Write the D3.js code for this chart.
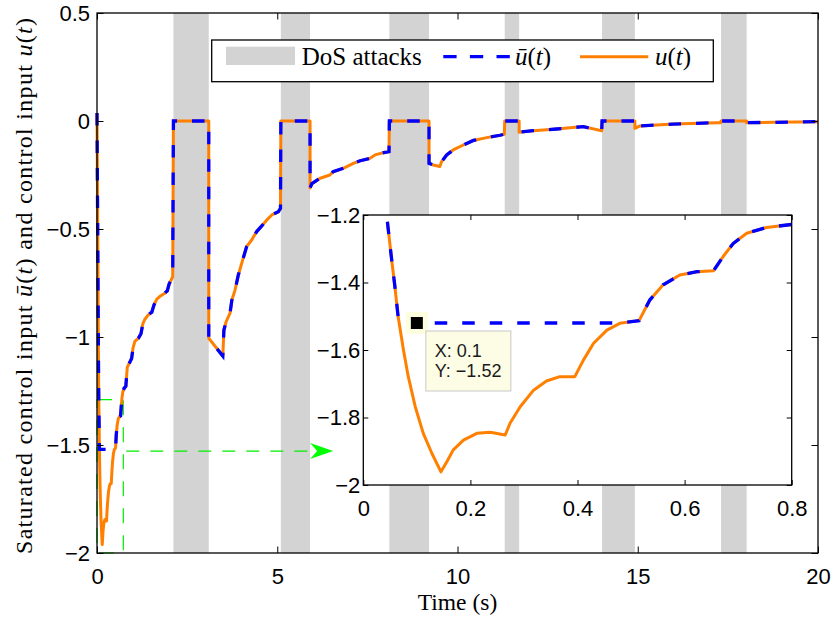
<!DOCTYPE html>
<html>
<head>
<meta charset="utf-8">
<script src="https://cdn.jsdelivr.net/npm/d3@7"></script>
<style>
  body { margin: 0; background: #fff; }
  svg { display: block; }
  .tick text { font-family: "Liberation Sans", Arial, sans-serif; font-size: 22px; fill: #000; }
  .tick line { stroke: #000; stroke-width: 1; }
  .serif { font-family: "Liberation Serif", "Times New Roman", serif; fill: #000; }
</style>
</head>
<body>
<svg width="834" height="624"></svg>
<script>
// DoS attack intervals [start, end] (s)
const attacks = [[2.12, 3.10], [5.10, 5.91], [8.11, 9.21], [11.31, 11.71], [14.01, 14.92], [17.31, 18.02]];

// control input u(t) as [t, value]
const u = [
  [0, 0.037], [0.045, -1.220], [0.053, -1.333], [0.059, -1.412], [0.065, -1.501], [0.075, -1.600],
  [0.084, -1.679], [0.097, -1.768], [0.112, -1.847], [0.128, -1.906], [0.145, -1.961], [0.156, -1.931],
  [0.168, -1.896], [0.187, -1.867], [0.212, -1.847], [0.237, -1.844], [0.265, -1.852], [0.274, -1.817],
  [0.293, -1.768], [0.318, -1.719], [0.342, -1.692], [0.367, -1.679], [0.395, -1.679], [0.411, -1.630],
  [0.430, -1.580], [0.455, -1.541], [0.479, -1.521], [0.515, -1.513], [0.535, -1.452], [0.560, -1.407],
  [0.591, -1.378], [0.623, -1.368], [0.654, -1.365], [0.672, -1.323], [0.691, -1.284], [0.716, -1.254],
  [0.753, -1.237], [0.800, -1.228],
  [0.84, -1.14], [0.90, -1.12], [0.96, -1.10], [1.00, -1.05], [1.05, -1.02], [1.15, -1.005],
  [1.22, -0.985], [1.27, -0.94], [1.32, -0.92], [1.42, -0.898], [1.52, -0.885], [1.58, -0.852],
  [1.66, -0.825], [1.76, -0.81], [1.86, -0.80], [1.95, -0.786], [2.00, -0.755], [2.10, -0.721],
  [2.12, 0], [3.10, 0], [3.10, -1.006], [3.49, -1.088],
  [3.52, -0.968], [3.58, -0.93], [3.69, -0.89], [3.74, -0.83], [3.83, -0.782], [3.92, -0.713],
  [4.04, -0.644], [4.15, -0.582], [4.29, -0.551], [4.43, -0.512], [4.57, -0.486], [4.71, -0.458],
  [4.85, -0.435], [5.03, -0.42], [5.09, -0.404],
  [5.10, 0], [5.91, 0], [5.91, -0.31], [5.96, -0.29], [6.19, -0.265], [6.46, -0.25], [6.55, -0.235],
  [6.83, -0.219], [7.11, -0.196], [7.30, -0.184], [7.57, -0.173], [7.71, -0.157], [7.99, -0.145],
  [8.10, -0.142],
  [8.11, 0], [9.21, 0], [9.21, -0.196], [9.33, -0.204], [9.51, -0.211], [9.56, -0.188], [9.70, -0.157],
  [9.88, -0.134], [10.16, -0.111], [10.44, -0.09], [10.81, -0.077], [11.18, -0.066], [11.30, -0.061],
  [11.31, 0], [11.71, 0], [11.71, -0.052], [12.1, -0.045], [12.75, -0.037], [13.49, -0.026], [14.00, -0.045],
  [14.01, 0], [14.92, 0], [14.92, -0.034], [15.06, -0.023], [15.99, -0.014], [17.19, -0.008], [17.30, -0.008],
  [17.31, 0], [18.02, 0], [18.02, -0.008], [18.8, -0.006], [20, -0.003]
];

// saturated input ū(t): held at the limit early on, equal to u afterwards
const ubarHead = [
  [0, 0.037], [0.045, -1.220], [0.053, -1.333], [0.059, -1.412], [0.065, -1.501], [0.067, -1.52], [0.479, -1.52]
];
const ubar = ubarHead.concat(u.filter(d => d[0] > 0.48));

const xTicks = [0, 5, 10, 15, 20];
const yTicks = [-2, -1.5, -1, -0.5, 0, 0.5];
const insetXTicks = [0, 0.2, 0.4, 0.6, 0.8];
const insetYTicks = [-2, -1.8, -1.6, -1.4, -1.2];

// data tip shown in the zoomed view
const tip = [0.1, -1.52];

// zoom region and arrow, in main data coords
const zoomBox = [[0, -2], [0.73, -1.29]];
const arrow = [[0.73, -1.528], [6.55, -1.528]];

const ORANGE = "#ff8000", BLUE = "#0000ff", GREEN = "#00ee00", GREY = "#d3d3d3";
const fmt = d3.format("~g");

const svg = d3.select("svg");
const x = d3.scaleLinear().domain([0, 20]).range([97, 818]);
const y = d3.scaleLinear().domain([-2, 0.5]).range([553, 13]);
const xi = d3.scaleLinear().domain([0, 0.8]).range([363.3, 791.7]);
const yi = d3.scaleLinear().domain([-2, -1.2]).range([485, 215]);

// box with inward ticks on all four sides
function frame(g, xs, ys, xt, yt, len, padX, padY) {
  const [x0, x1] = xs.range(), [y0, y1] = ys.range();
  g.append("g").attr("transform", `translate(0,${y0})`)
    .call(d3.axisBottom(xs).tickValues(xt).tickFormat(fmt).tickSizeInner(-len).tickSizeOuter(0).tickPadding(padY));
  g.append("g").attr("transform", `translate(0,${y1})`)
    .call(d3.axisTop(xs).tickValues(xt).tickFormat("").tickSizeInner(-len).tickSizeOuter(0));
  g.append("g").attr("transform", `translate(${x0},0)`)
    .call(d3.axisLeft(ys).tickValues(yt).tickFormat(fmt).tickSizeInner(-len).tickSizeOuter(0).tickPadding(padX));
  g.append("g").attr("transform", `translate(${x1},0)`)
    .call(d3.axisRight(ys).tickValues(yt).tickFormat("").tickSizeInner(-len).tickSizeOuter(0));
  g.selectAll(".domain").remove();
  g.selectAll(".tick text").attr("font-family", null).attr("font-size", null);
  g.append("rect").attr("x", x0).attr("y", y1).attr("width", x1 - x0).attr("height", y0 - y1)
    .attr("fill", "none").attr("stroke", "#000").attr("stroke-width", 1.3);
}

function lines(g, xs, ys, uData, ubData) {
  const line = d3.line().x(d => xs(d[0])).y(d => ys(d[1]));
  g.append("path").attr("d", line(uData)).attr("fill", "none")
    .attr("stroke", ORANGE).attr("stroke-width", 3).attr("stroke-linejoin", "round");
  g.append("path").attr("d", line(ubData)).attr("fill", "none")
    .attr("stroke", BLUE).attr("stroke-width", 3.3).attr("stroke-dasharray", "12.5,15");
}

function richText(sel, parts) {
  parts.forEach(([s, it]) => sel.append("tspan").attr("font-style", it ? "italic" : null).text(s));
  return sel;
}

// DoS bands
svg.append("g").selectAll("rect").data(attacks).join("rect")
  .attr("x", d => x(d[0])).attr("width", d => x(d[1]) - x(d[0]))
  .attr("y", y(0.5)).attr("height", y(-2) - y(0.5)).attr("fill", GREY);

// zoom marker and arrow
const ann = svg.append("g").attr("stroke", GREEN).attr("stroke-width", 1.2).attr("fill", "none");
ann.append("rect")
  .attr("x", x(zoomBox[0][0])).attr("y", y(zoomBox[1][1]))
  .attr("width", x(zoomBox[1][0]) - x(zoomBox[0][0])).attr("height", y(zoomBox[0][1]) - y(zoomBox[1][1]))
  .attr("stroke-dasharray", "15,12");
const ax0 = x(arrow[0][0]), ax1 = x(arrow[1][0]), ay = y(arrow[0][1]);
ann.append("line").attr("x1", ax0 + 3).attr("x2", ax1 - 18).attr("y1", ay).attr("y2", ay)
  .attr("stroke-dasharray", "13,11");
svg.append("path").attr("fill", "#00ff00")
  .attr("d", `M${ax1},${ay} L${ax1 - 23},${ay - 8} L${ax1 - 16},${ay} L${ax1 - 23},${ay + 8} Z`);

lines(svg.append("g"), x, y, u, ubar);
frame(svg.append("g"), x, y, xTicks, yTicks, 6.5, 7, 15);

// legend
const lg = svg.append("g");
lg.append("rect").attr("x", 211.7).attr("y", 40).attr("width", 501.6).attr("height", 41.7)
  .attr("fill", "#fff").attr("stroke", "#000").attr("stroke-width", 1.3);
lg.append("rect").attr("x", 226).attr("y", 46.7).attr("width", 69).attr("height", 18.3).attr("fill", GREY);
lg.append("text").attr("class", "serif").attr("x", 301.7).attr("y", 65).attr("font-size", 25).text("DoS attacks");
lg.append("line").attr("x1", 443.3).attr("x2", 511.7).attr("y1", 56.7).attr("y2", 56.7)
  .attr("stroke", BLUE).attr("stroke-width", 3.3).attr("stroke-dasharray", "13.3,13.3");
richText(lg.append("text").attr("class", "serif").attr("x", 515).attr("y", 65).attr("font-size", 25),
  [["ū", true], ["(", false], ["t", true], [")", false]]);
lg.append("line").attr("x1", 580).attr("x2", 648.3).attr("y1", 56.7).attr("y2", 56.7)
  .attr("stroke", ORANGE).attr("stroke-width", 3);
richText(lg.append("text").attr("class", "serif").attr("x", 655).attr("y", 65).attr("font-size", 25),
  [["u", true], ["(", false], ["t", true], [")", false]]);

// axis titles
svg.append("text").attr("class", "serif").attr("x", x(10)).attr("y", 610).attr("font-size", 23.5)
  .attr("text-anchor", "middle").text("Time (s)");
richText(svg.append("text").attr("class", "serif").attr("font-size", 24).attr("text-anchor", "middle")
  .attr("transform", "translate(31.5,286) rotate(-90)").attr("textLength", 536).attr("lengthAdjust", "spacing"),
  [["Saturated control input ", false], ["ū", true], ["(", false], ["t", true], [") and control input ", false],
   ["u", true], ["(", false], ["t", true], [")", false]]);

// inset: zoom on the first 0.8 s
const inset = svg.append("g");
inset.append("rect").attr("x", xi(0)).attr("y", yi(-1.2)).attr("width", xi(0.8) - xi(0))
  .attr("height", yi(-2) - yi(-1.2)).attr("fill", "#fff");
const inRange = d => d[0] > 0.04 && d[0] <= 0.8;
lines(inset.append("g"), xi, yi, u.filter(inRange), ubar.filter(inRange));
frame(inset.append("g"), xi, yi, insetXTicks, insetYTicks, 5, 3, 15);

// data tip
const px = xi(tip[0]), py = yi(tip[1]);
const tg = inset.append("g");
tg.append("rect").attr("x", px - 11).attr("y", py - 11).attr("width", 22).attr("height", 22).attr("fill", "#fdfde0");
tg.append("rect").attr("x", px - 6).attr("y", py - 6).attr("width", 12).attr("height", 12).attr("fill", "#000");
tg.append("rect").attr("x", px + 9).attr("y", py + 8).attr("width", 85).attr("height", 60)
  .attr("fill", "#fdfde6").attr("stroke", "#c8c8c8").attr("stroke-width", 1);
tg.selectAll("text.tip").data([`X: ${fmt(tip[0])}`, `Y: ${fmt(tip[1])}`]).join("text")
  .attr("class", "tip").attr("x", px + 18).attr("y", (d, i) => py + 34 + i * 20)
  .attr("font-family", "'Liberation Sans', Arial, sans-serif").attr("font-size", 18).attr("fill", "#1a1a1a")
  .text(d => d);
</script>
</body>
</html>
